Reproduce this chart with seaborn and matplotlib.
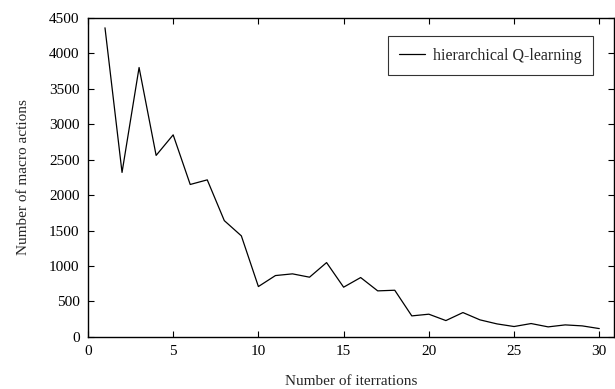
import numpy as np
import pandas as pd
import matplotlib
matplotlib.use("Agg")
import matplotlib.pyplot as plt
import seaborn as sns

# Data
iterations = list(range(1, 31))
macro_actions = [4360, 2320, 3800, 2560, 2850, 2150, 2215, 1640, 1425, 710,
                 865, 889, 842, 1048, 701, 837, 649, 658, 296, 320,
                 230, 343, 240, 183, 146, 188, 141, 169, 155, 117]

df = pd.DataFrame({"iter": iterations, "actions": macro_actions})

sns.set_style("ticks")
plt.rcParams["font.family"] = ["Liberation Serif", "DejaVu Serif"]

fig = plt.figure(figsize=(6.15, 3.89), dpi=100)
ax = fig.add_axes([0.143, 0.134, 0.855, 0.82])

sns.lineplot(data=df, x="iter", y="actions", color="black", linewidth=0.9,
             label="hierarchical Q-learning", ax=ax)

ax.set_xlim(0, 30.85)
ax.set_ylim(0, 4500)
ax.set_xticks(np.arange(0, 31, 5))
ax.set_yticks(np.arange(0, 4501, 500))
ax.tick_params(direction="in", top=True, right=True, length=4, width=0.8,
               labelsize=11, colors="black", pad=6)
for s in ax.spines.values():
    s.set_visible(True)
    s.set_linewidth(1.0)
    s.set_color("black")

ax.set_xlabel("Number of iterrations", fontsize=11, labelpad=12)
ax.set_ylabel("Number of macro actions", fontsize=11, labelpad=14)

leg = ax.legend(loc="upper right", bbox_to_anchor=(0.96, 0.942), fontsize=11.5,
                frameon=True, fancybox=False, edgecolor="black",
                handlelength=1.6, handletextpad=0.5, borderpad=0.7,
                borderaxespad=0)
leg.get_frame().set_linewidth(0.8)

fig.savefig("out.png", dpi=100)
